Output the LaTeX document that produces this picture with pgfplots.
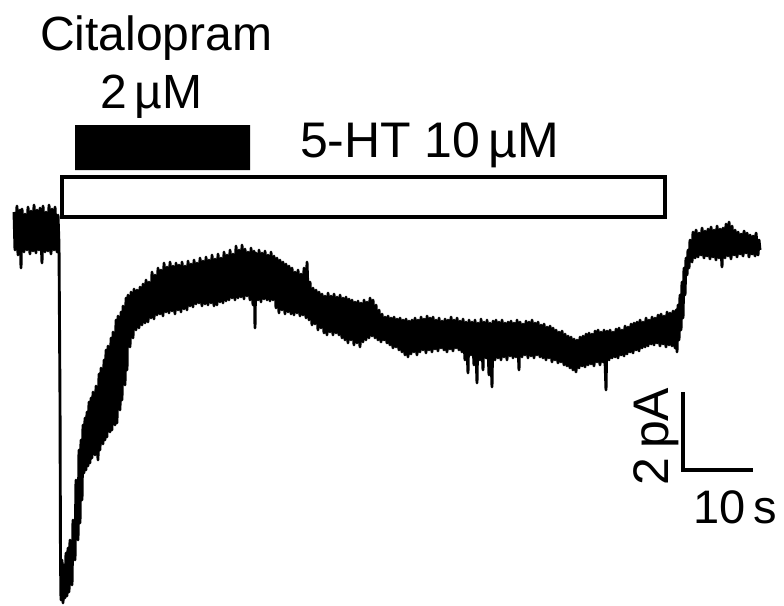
\documentclass[border=0pt]{standalone}
\usepackage{fontspec}
\setmainfont{Liberation Sans}
\usepackage{pgfplots}
\pgfplotsset{compat=1.18}
\begin{document}
\begin{tikzpicture}
\begin{axis}[width=784pt,height=605pt,scale only axis,hide axis,
  xmin=0,xmax=784,ymin=0,ymax=605,y dir=reverse,clip=false]
\addplot[draw=none] coordinates {(0,0)(784,605)};
% Citalopram bar
\addplot[fill=black,draw=none] coordinates {(75,125)(250,125)(250,170)(75,170)(75,125)};
% 5-HT box
\addplot[black,line width=4pt,line cap=rect,line join=miter] coordinates {(62,177)(665,177)(665,217)(62,217)(62,177)};
% scale bar
\addplot[black,line width=4pt,line cap=butt,line join=miter] coordinates {(683,392)(683,470)(753,470)};
% trace
\addplot[black,line width=2.9pt,line join=round] coordinates {
(14,212)(15,250)(17,206)(18,255)(20,210)(21,268)(22,209)(24,252)(25,214)(27,250)(28,207)(30,254)(31,211)(33,251)(34,205)(36,253)(37,210)(39,250)(40,208)(42,263)(43,206)(45,252)(46,212)(48,251)(49,205)(51,254)(52,209)(54,250)(55,207)(57,252)(58,215)(59,245)
(60,400)(60.5,560)(61,600)(62,560)(63,603)(64,565)(65,598)(66,553)(67,596)(68,548)(69,592)(70,540)(72,585)(73,520)(75,560)(76,480)(78,540)(79,450)(80,523)(81,440)(82,500)(83,425)(84,473)(85,418)(86,470)(87,412)(88,466)(89,402)(90,463)(91,398)(92,458)(93,392)(95,455)(96,386)(98,460)(99,374)(100,450)(101,368)(103,444)(104,360)(105,440)(106,350)(107,437)(108,346)(110,432)(111,338)(112,430)(113,332)(115,425)(116,320)(117,423)(118,316)(120,410)(121,312)(122,400)(123,306)(125,385)(126,298)(127,370)(128,295)(130,347)(131,292)(133,338)(134,289)(136,330)(137,290)(139,328)(140,287)(142,325)(143,284)(145,323)(146,280)(148,322)(149,282)(151,318)(152,272)(154,319)(155,275)(157,315)(158,268)(160,314)(161,270)(163,316)(164,263)(166,312)(167,267)(169,313)(170,262)(172,311)(173,266)(175,314)(176,263)(178,310)(179,265)(181,312)(182,262)(184,309)(185,266)(187,310)(188,261)(190,306)(191,264)(193,307)(194,260)(196,304)(197,263)(199,303)(200,258)(202,306)(203,261)(205,304)(206,257)(208,305)(209,260)(211,303)(212,255)(214,306)(215,259)(217,305)(218,254)(220,302)(221,258)(223,303)(224,252)(226,301)(227,255)(229,300)(230,250)(232,298)(233,254)(235,300)(236,246)(238,298)(239,250)(241,297)(242,245)(244,299)(245,249)(247,296)(248,252)(250,300)(251,248)(253,305)(254,251)(255,328)(256,253)(258,300)(259,250)(261,302)(262,253)(264,299)(265,251)(267,300)(268,255)(270,301)(271,252)(273,300)(274,256)(276,308)(277,258)(279,313)(280,260)(282,310)(283,262)(285,314)(286,264)(288,312)(289,266)(291,314)(292,268)(294,315)(295,272)(297,313)(298,270)(300,316)(301,274)(303,315)(304,268)(306,318)(307,262)(309,320)(310,282)(312,325)(313,288)(315,324)(316,290)(318,330)(319,292)(321,328)(322,294)(324,333)(325,296)(327,335)(328,293)(330,332)(331,296)(333,335)(334,294)(336,333)(337,297)(339,335)(340,295)(342,338)(343,298)(345,340)(346,297)(348,343)(349,299)(351,340)(352,300)(354,345)(355,302)(357,343)(358,301)(360,347)(361,303)(363,342)(364,300)(366,340)(367,302)(369,338)(370,298)(372,336)(373,300)(375,338)(376,305)(378,340)(379,310)(381,342)(382,314)(384,340)(385,317)(387,343)(388,316)(390,345)(391,318)(393,348)(394,317)(396,347)(397,319)(399,350)(400,318)(402,352)(403,320)(405,355)(406,319)(408,357)(409,321)(411,354)(412,320)(414,352)(415,318)(417,355)(418,320)(420,352)(421,317)(423,350)(424,319)(426,353)(427,316)(429,350)(430,318)(432,352)(433,317)(435,349)(436,320)(438,351)(439,318)(441,348)(442,321)(444,350)(445,319)(447,352)(448,320)(450,349)(451,317)(453,351)(454,320)(456,348)(457,318)(459,350)(460,321)(462,352)(463,319)(465,360)(466,322)(468,373)(469,320)(471,355)(472,322)(474,365)(475,320)(477,383)(478,323)(480,360)(481,319)(483,370)(484,322)(486,358)(487,320)(489,375)(490,323)(492,387)(493,321)(495,360)(496,320)(498,358)(499,322)(501,360)(502,320)(504,357)(505,323)(507,360)(508,322)(510,356)(511,321)(513,358)(514,323)(516,357)(517,320)(519,370)(520,322)(522,357)(523,324)(525,355)(526,321)(528,358)(529,322)(531,356)(532,320)(534,358)(535,323)(537,355)(538,322)(540,357)(541,325)(543,358)(544,324)(546,360)(547,327)(549,358)(550,326)(552,362)(553,328)(555,360)(556,330)(558,363)(559,332)(561,362)(562,331)(564,365)(565,334)(567,366)(568,336)(570,368)(571,337)(573,370)(574,339)(576,372)(577,340)(579,368)(580,337)(582,366)(583,336)(585,367)(586,334)(588,365)(589,333)(591,364)(592,334)(594,366)(595,331)(597,362)(598,330)(600,365)(601,332)(603,362)(604,330)(606,390)(607,331)(609,360)(610,330)(612,358)(613,332)(615,357)(616,329)(618,358)(619,328)(621,355)(622,330)(624,356)(625,326)(627,354)(628,327)(630,352)(631,324)(633,353)(634,323)(636,350)(637,322)(639,351)(640,320)(642,348)(643,322)(645,347)(646,318)(648,346)(649,320)(651,344)(652,317)(654,345)(655,318)(657,343)(658,315)(660,346)(661,314)(663,344)(664,316)(666,347)(667,312)(669,345)(670,313)(672,346)(673,311)(675,348)(676,310)(677,352)(678,305)(679,340)(680,295)(681,330)(682,282)(683,318)(684,268)(685,295)(686,258)(687,275)(688,250)(689,268)(690,240)(692,262)(693,232)(695,258)(696,230)(698,257)(699,233)(701,255)(702,228)(704,258)(705,231)(707,256)(708,229)(710,259)(711,227)(713,257)(714,230)(716,260)(717,226)(719,258)(720,229)(722,267)(723,228)(725,258)(726,224)(728,256)(729,222)(731,259)(732,226)(734,255)(735,230)(737,257)(738,232)(740,254)(741,234)(743,256)(744,231)(746,253)(747,233)(749,257)(750,235)(752,254)(753,236)(755,256)(756,233)(758,255)(759,240)(760,250)
};
% labels
\node[anchor=base west,inner sep=0pt,outer sep=0pt,font=\fontsize{48}{56}\selectfont] at (axis cs:40,50) {Citalopram};
\node[anchor=base west,inner sep=0pt,outer sep=0pt,font=\fontsize{48}{56}\selectfont] at (axis cs:100,108) {2\,µM};
\node[anchor=base west,inner sep=0pt,outer sep=0pt,font=\fontsize{50}{58}\selectfont] at (axis cs:300,157) {5-HT 10\,µM};
\node[anchor=base west,inner sep=0pt,outer sep=0pt,font=\fontsize{47}{55}\selectfont] at (axis cs:693,523) {10\,s};
\node[anchor=base west,rotate=90,inner sep=0pt,outer sep=0pt,font=\fontsize{50}{58}\selectfont] at (axis cs:668,485) {2\,pA};
\end{axis}
\end{tikzpicture}
\end{document}
